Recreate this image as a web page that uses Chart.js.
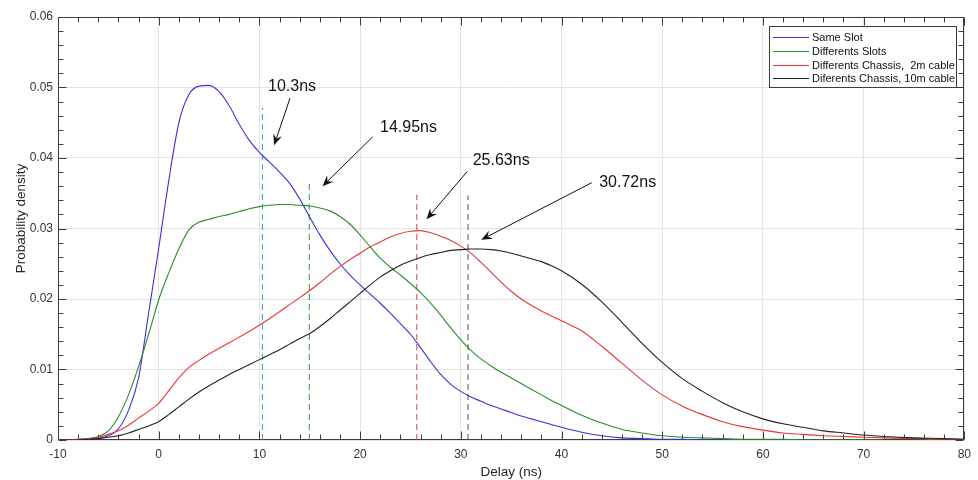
<!DOCTYPE html>
<html>
<head>
<meta charset="utf-8">
<script src="https://cdn.jsdelivr.net/npm/chart.js@4.4.1/dist/chart.umd.min.js"></script>
<style>
html,body{margin:0;padding:0;background:#fff;}
#wrap{width:978px;height:480px;}
</style>
</head>
<body>
<div id="wrap"><canvas id="c" width="978" height="480"></canvas></div>
<script>
// ---- Data ----
const delayNs = [-9,-8,-7,-6,-5,-4,-3,-2,-1,0,1,2,3,4,5,6,7,8,9,10,11,12,13,14,15,16,17,18,19,20,
  21,22,23,24,25,26,27,28,29,30,31,32,33,34,35,36,37,38,39,40,
  42,44,46,48,50,52,54,56,58,60,62,64,66,68,70,72,75,78,80];

const sameSlot = [0,0,0.0001,0.0002,0.0006,0.0016,0.0042,0.0088,0.0180,0.0272,0.0368,0.0450,0.0490,0.0502,0.0503,0.0494,0.0474,0.0448,0.0425,0.0408,
  0.0394,0.0380,0.0364,0.0342,0.0316,0.0291,0.0269,0.0250,0.0234,0.0220,
  0.0207,0.0194,0.0180,0.0165,0.0150,0.0131,0.0111,0.0093,0.0079,0.0069,0.0061,0.0055,0.0049,0.0044,0.0039,0.0034,0.0030,0.0026,0.0022,0.0018,
  0.0011,0.0006,0.0003,0.0002,0.0001,0.0001,0,0,0,0,0,0,null,null,null,null,null,null,null];

const diffSlots = [0,0.0001,0.0002,0.0005,0.0013,0.0033,0.0064,0.0104,0.0150,0.0199,0.0237,0.0271,0.0298,0.0309,0.0313,0.0317,0.0320,0.0324,0.0328,0.0331,
  0.0333,0.0334,0.0334,0.0333,0.0332,0.0329,0.0325,0.0317,0.0306,0.0291,
  0.0274,0.0258,0.0245,0.0234,0.0222,0.0209,0.0194,0.0177,0.0159,0.0142,0.0127,0.0115,0.0105,0.0096,0.0088,0.0080,0.0072,0.0064,0.0056,0.0049,
  0.0035,0.0024,0.0015,0.0010,0.0006,0.0004,0.0003,0.0002,0.0001,0.0001,0.0001,0,0,0,0,0,null,null,null];

const chassis2m = [0,0.0001,0.0002,0.0004,0.0008,0.0013,0.0021,0.0031,0.0041,0.0052,0.0070,0.0088,0.0103,0.0113,0.0122,0.0130,0.0138,0.0146,0.0154,0.0163,
  0.0172,0.0182,0.0192,0.0202,0.0212,0.0223,0.0235,0.0246,0.0256,0.0265,
  0.0274,0.0281,0.0288,0.0293,0.0296,0.0297,0.0294,0.0289,0.0283,0.0275,0.0265,0.0252,0.0238,0.0224,0.0211,0.0200,0.0191,0.0183,0.0176,0.0169,
  0.0155,0.0133,0.0109,0.0085,0.0064,0.0048,0.0036,0.0026,0.0019,0.0014,0.0010,0.0008,0.0006,0.0005,0.0004,0.0003,0.0002,0.0001,0.0001];

const chassis10m = [0,0,0.0001,0.0002,0.0004,0.0006,0.0010,0.0015,0.0020,0.0026,0.0036,0.0047,0.0058,0.0068,0.0077,0.0085,0.0093,0.0100,0.0107,0.0114,
  0.0121,0.0128,0.0136,0.0144,0.0151,0.0161,0.0172,0.0184,0.0196,0.0208,
  0.0220,0.0231,0.0240,0.0248,0.0254,0.0259,0.0263,0.0266,0.0269,0.0270,0.0271,0.0271,0.0270,0.0268,0.0265,0.0261,0.0257,0.0253,0.0247,0.0240,
  0.0221,0.0196,0.0167,0.0137,0.0110,0.0087,0.0069,0.0053,0.0040,0.0030,0.0023,0.0018,0.0013,0.0010,0.0007,0.0005,0.0003,0.0002,0.0001];

const seriesLabels = ['Same Slot', 'Differents Slots', 'Differents Chassis,  2m cable', 'Diferents Chassis, 10m cable'];

// vertical dashed markers (mean delays)
const markerX   = [10.3, 14.95, 25.63, 30.72];
const markerTop = [0.0471, 0.0366, 0.0348, 0.0347];

// annotation texts and their anchor points (data units)
const noteText  = ['10.3ns', '14.95ns', '25.63ns', '30.72ns'];
const noteAt    = [[13.24, 0.0501], [24.81, 0.0443], [34.01, 0.0397], [46.57, 0.0365]];
const arrowFrom = [[13.04, 0.0485], [21.25, 0.0430], [30.65, 0.0381], [43.01, 0.0365]];
const arrowTo   = [[11.46, 0.0418], [16.26, 0.0360], [26.59, 0.0313], [32.03, 0.0284]];

const xTicks = {min: -10, max: 80, step: 10};
const yTicks = {min: 0, max: 0.06, step: 0.01};
const xTitle = 'Delay (ns)';
const yTitle = 'Probability density';

// ---- Styles ----
const lineColors   = ['#3535d6', '#2a8c2a', '#e63838', '#222222'];
const markerColors = ['#3f98bd', '#349034', '#cc4444', '#555555'];
const FONT = '"Liberation Sans", Arial, Helvetica, sans-serif';
Chart.defaults.font.family = FONT;

const toPts = (ys) => ys.map((y, i) => ({x: delayNs[i], y})).filter(p => p.y !== null);
const seriesValues = [sameSlot, diffSlots, chassis2m, chassis10m];

const datasets = seriesValues.map((vals, i) => ({
  label: seriesLabels[i],
  data: toPts(vals),
  showLine: true,
  borderColor: lineColors[i],
  backgroundColor: lineColors[i],
  borderWidth: 1.1,
  pointRadius: 0,
  cubicInterpolationMode: 'monotone',
  fill: false,
  order: 4 - i
}));
markerX.forEach((mx, i) => {
  datasets.push({
    label: 'marker' + i,
    data: [{x: mx, y: 0}, {x: mx, y: markerTop[i]}],
    showLine: true,
    borderColor: markerColors[i],
    borderWidth: 1,
    borderDash: [6, 4],
    pointRadius: 0,
    fill: false,
    order: 10
  });
});

const crisp = v => Math.round(v) + 0.5;

const framePlugin = {
  id: 'frame',
  beforeDatasetsDraw(chart) {
    const {ctx, chartArea: a, scales: {x, y}} = chart;
    ctx.save();
    ctx.strokeStyle = '#3c3c3c';
    ctx.lineWidth = 1;
    const L = crisp(a.left), R = crisp(a.right - 1), T = crisp(a.top), B = crisp(a.bottom - 1);
    ctx.beginPath();
    ctx.rect(L, T, R - L, B - T);
    ctx.stroke();
    ctx.beginPath();
    for (let i = 0; i <= 45; i++) {
      const v = xTicks.min + i * 2;
      const px = crisp(x.getPixelForValue(v));
      const len = (i % 5 === 0) ? 8 : 5;
      ctx.moveTo(px, B); ctx.lineTo(px, B - len);
      ctx.moveTo(px, T); ctx.lineTo(px, T + len);
    }
    for (let i = 0; i <= 30; i++) {
      const v = yTicks.min + i * 0.002;
      const py = crisp(y.getPixelForValue(v));
      const len = (i % 5 === 0) ? 8 : 5;
      ctx.moveTo(L, py); ctx.lineTo(L + len, py);
      ctx.moveTo(R, py); ctx.lineTo(R - len, py);
    }
    ctx.stroke();
    // y axis title (rotated), centred like the reference
    ctx.fillStyle = '#262626';
    ctx.font = '13.5px ' + FONT;
    ctx.textAlign = 'center';
    ctx.textBaseline = 'middle';
    ctx.translate(21.5, (a.top + a.bottom) / 2 - 10);
    ctx.rotate(-Math.PI / 2);
    ctx.fillText(yTitle, 0, 0);
    ctx.restore();
  },
  afterDatasetsDraw(chart) {
    const {ctx, chartArea: a, scales: {x, y}} = chart;
    ctx.save();
    // annotations with arrows
    ctx.strokeStyle = '#111';
    ctx.fillStyle = '#111';
    ctx.lineWidth = 1;
    for (let i = 0; i < noteText.length; i++) {
      const fx = x.getPixelForValue(arrowFrom[i][0]), fy = y.getPixelForValue(arrowFrom[i][1]);
      const tx = x.getPixelForValue(arrowTo[i][0]),   ty = y.getPixelForValue(arrowTo[i][1]);
      const dx = tx - fx, dy = ty - fy, d = Math.hypot(dx, dy);
      const ux = dx / d, uy = dy / d, nx = -uy, ny = ux;
      const HL = 11, HW = 4.5, NOTCH = 7;
      ctx.beginPath();
      ctx.moveTo(fx, fy);
      ctx.lineTo(tx - ux * NOTCH, ty - uy * NOTCH);
      ctx.stroke();
      ctx.beginPath();
      ctx.moveTo(tx, ty);
      ctx.lineTo(tx - ux * HL + nx * HW, ty - uy * HL + ny * HW);
      ctx.lineTo(tx - ux * NOTCH, ty - uy * NOTCH);
      ctx.lineTo(tx - ux * HL - nx * HW, ty - uy * HL - ny * HW);
      ctx.closePath();
      ctx.fill();
      ctx.font = '16px ' + FONT;
      ctx.textAlign = 'center';
      ctx.textBaseline = 'middle';
      ctx.fillText(noteText[i], x.getPixelForValue(noteAt[i][0]), y.getPixelForValue(noteAt[i][1]));
    }
    // legend box
    const bw = 187, bh = 61;
    const bx = Math.round(a.right - 8 - bw), by = Math.round(a.top + 9);
    ctx.fillStyle = '#ffffff';
    ctx.fillRect(bx, by, bw, bh);
    ctx.strokeStyle = '#3c3c3c';
    ctx.lineWidth = 1;
    ctx.strokeRect(bx + 0.5, by + 0.5, bw, bh);
    ctx.font = '11px ' + FONT;
    ctx.textAlign = 'left';
    ctx.textBaseline = 'middle';
    for (let i = 0; i < seriesLabels.length; i++) {
      const ry = Math.round(by + 11 + i * 13.8);
      ctx.fillStyle = lineColors[i];
      ctx.fillRect(bx + 4, ry, 36, 1);
      ctx.fillStyle = '#111111';
      ctx.fillText(seriesLabels[i], bx + 43, ry + 1);
    }
    ctx.restore();
  }
};

new Chart(document.getElementById('c'), {
  type: 'scatter',
  data: {datasets},
  options: {
    responsive: false,
    animation: false,
    devicePixelRatio: 1,
    layout: {padding: {top: 17, right: 10, left: 0, bottom: 0}},
    plugins: {legend: {display: false}, tooltip: {enabled: false}},
    scales: {
      x: {
        type: 'linear',
        min: xTicks.min, max: xTicks.max,
        afterFit(s) { s.height = 40; },
        border: {display: false},
        grid: {color: '#e4e4e4', lineWidth: 1, drawTicks: false},
        ticks: {stepSize: xTicks.step, padding: 7, color: '#333', font: {size: 12},
                callback: v => String(Math.round(v))},
        title: {display: true, text: xTitle, color: '#262626', font: {size: 13.5},
                padding: {top: 0, bottom: 0}}
      },
      y: {
        type: 'linear',
        min: yTicks.min, max: yTicks.max,
        afterFit(s) { s.width = 58; },
        border: {display: false},
        grid: {color: '#e4e4e4', lineWidth: 1, drawTicks: false},
        ticks: {stepSize: yTicks.step, padding: 5, color: '#333', font: {size: 12},
                callback: v => String(+(+v).toFixed(2))},
        title: {display: false, text: yTitle}
      }
    }
  },
  plugins: [framePlugin]
});
</script>
</body>
</html>
